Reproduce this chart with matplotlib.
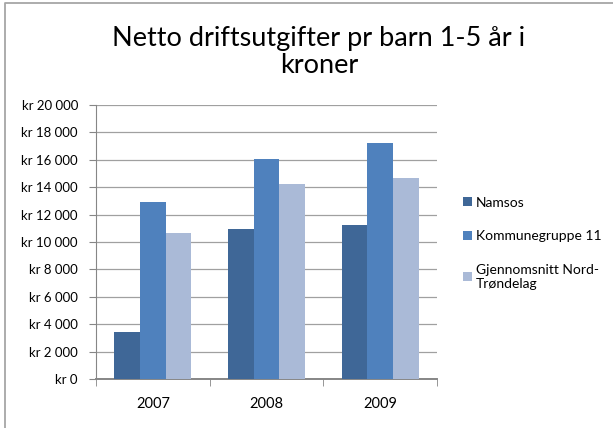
import numpy as np
import matplotlib
matplotlib.use("Agg")
import matplotlib.pyplot as plt
from matplotlib.lines import Line2D

years = ["2007", "2008", "2009"]
namsos = [3430, 10930, 11270]
kommunegruppe = [12940, 16040, 17250]
snitt_nt = [10630, 14230, 14670]
series_names = ["Namsos", "Kommunegruppe 11", "Gjennomsnitt Nord-\nTrøndelag"]
colors = ["#3F6797", "#4F81BD", "#AABAD7"]
yticks = np.arange(0, 20001, 2000)

plt.rcParams["font.family"] = ["Lato", "DejaVu Sans"]

fig = plt.figure(figsize=(6.13, 4.28), dpi=100)
ax = fig.add_axes([96/613, 1-379/428, (437-96)/613, (379-105)/428])

# chart frame, only top and left edges are visible
fig.lines.append(Line2D([5/613, 5/613, 1.01], [-0.01, 1-3/428, 1-3/428], transform=fig.transFigure,
                        color="#A6A6A6", lw=1.3))

x = np.arange(len(years))
w = 0.226
for i, (vals, c, name) in enumerate(zip([namsos, kommunegruppe, snitt_nt], colors, series_names)):
    ax.bar(x + (i-1)*w, vals, w, color=c, label=name, zorder=3)

ax.set_xlim(-0.5, 2.5)
ax.set_ylim(0, 20000)
ax.set_yticks(yticks)
ax.set_yticklabels(["kr %s" % format(v, ",").replace(",", " ") for v in yticks], fontsize=9.5)
ax.yaxis.grid(True, color="#A0A0A0", lw=0.9, zorder=0)
ax.set_xticks(x)
ax.set_xticklabels(years, fontsize=10.5)
ax.set_xticks([-0.5, 0.5, 1.5, 2.5], minor=True)
ax.tick_params(axis="x", which="major", length=0, pad=13)
ax.tick_params(axis="x", which="minor", length=5, color="#868686", direction="out")
ax.tick_params(axis="y", length=5, color="#868686", pad=8)
for s in ["top", "right"]:
    ax.spines[s].set_visible(False)
ax.spines["left"].set_color("#868686")
ax.spines["bottom"].set_color("#868686")
ax.spines["bottom"].set_linewidth(1.4)

fig.text(0.52, 0.94, "Netto driftsutgifter pr barn 1-5 år i\nkroner", ha="center", va="top",
         fontsize=19.5, linespacing=1.1)

ax.legend(loc="upper left", bbox_to_anchor=(450/613, 1-184/428), bbox_transform=fig.transFigure,
          frameon=False, fontsize=10, handlelength=0.65, handleheight=0.65, handletextpad=0.3,
          labelspacing=1.55)

fig.savefig("out.png", dpi=100)
